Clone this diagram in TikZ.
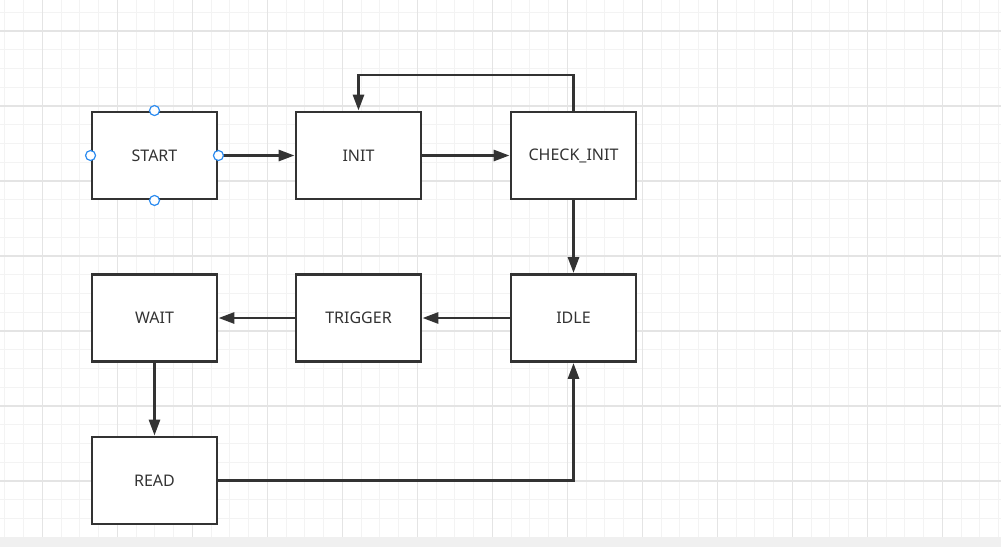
\documentclass[tikz,border=0pt]{standalone}
\usepackage{fontspec}
\setmainfont{Noto Sans}
\usetikzlibrary{arrows.meta}
\definecolor{ink}{HTML}{333333}
\definecolor{minorg}{HTML}{F3F3F3}
\definecolor{majorg}{HTML}{E4E4E4}
\definecolor{handle}{HTML}{2D8CF0}
\definecolor{strip}{HTML}{F0F0F0}
\tikzset{
  state/.style={draw=ink, line width=2.9pt, fill=white, minimum width=125pt, minimum height=87pt, inner sep=0pt, text=ink, font=\fontsize{16}{19}\selectfont},
  arr/.style={draw=ink, line width=2.9pt, -{Triangle[length=16pt,width=11pt]}},
  hdl/.style={circle, draw=handle, fill=white, line width=1.2pt, minimum size=10pt, inner sep=0pt},
}
\begin{document}
\begin{tikzpicture}[x=1pt,y=-1pt]
\useasboundingbox (0,0) rectangle (1001,547);
\fill[white] (0,0) rectangle (1001,537);
% minor grid
\foreach \i in {0,...,53} {
  \draw[minorg, line width=1pt] ({4.8+18.75*\i},0) -- ({4.8+18.75*\i},537);
}
\foreach \i in {0,...,28} {
  \draw[minorg, line width=1pt] (0,{12.25+18.75*\i}) -- (1001,{12.25+18.75*\i});
}
% major grid
\foreach \i in {0,...,13} {
  \draw[majorg, line width=1.2pt] ({42.3+75*\i},0) -- ({42.3+75*\i},537);
}
\foreach \i in {0,...,6} {
  \draw[majorg, line width=1.2pt] (0,{31+75*\i}) -- (1001,{31+75*\i});
}
\fill[strip] (0,537) rectangle (1001,547);

% states
\node[state] (start) at (154.5,155.5) {START};
\node[state] (init)  at (358.5,155.5) {INIT};
\node[state] (check) at (573.5,155.5) {CHECK\_INIT};
\node[state] (wait)  at (154.5,318) {WAIT};
\node[state] (trig)  at (358.5,318) {TRIGGER};
\node[state] (idle)  at (573.5,318) {IDLE};
\node[state] (read)  at (154.5,480.5) {READ};
\coordinate (loopy) at (0,75);

% connectors
\draw[arr] (start.east) -- (init.west);
\draw[arr] (init.east) -- (check.west);
\draw[arr] (check.north) -- (check.north |- loopy) -| (init.north);
\draw[arr] (check.south) -- (idle.north);
\draw[arr] (idle.west) -- (trig.east);
\draw[arr] (trig.west) -- (wait.east);
\draw[arr] (wait.south) -- (read.north);
\draw[arr] (read.east) -| (idle.south);

% selection handles on START
\node[hdl] (h1) at (start.north) {};
\node[hdl] (h2) at (start.south) {};
\node[hdl] (h3) at (start.west) {};
\node[hdl] (h4) at (start.east) {};
\end{tikzpicture}
\end{document}
